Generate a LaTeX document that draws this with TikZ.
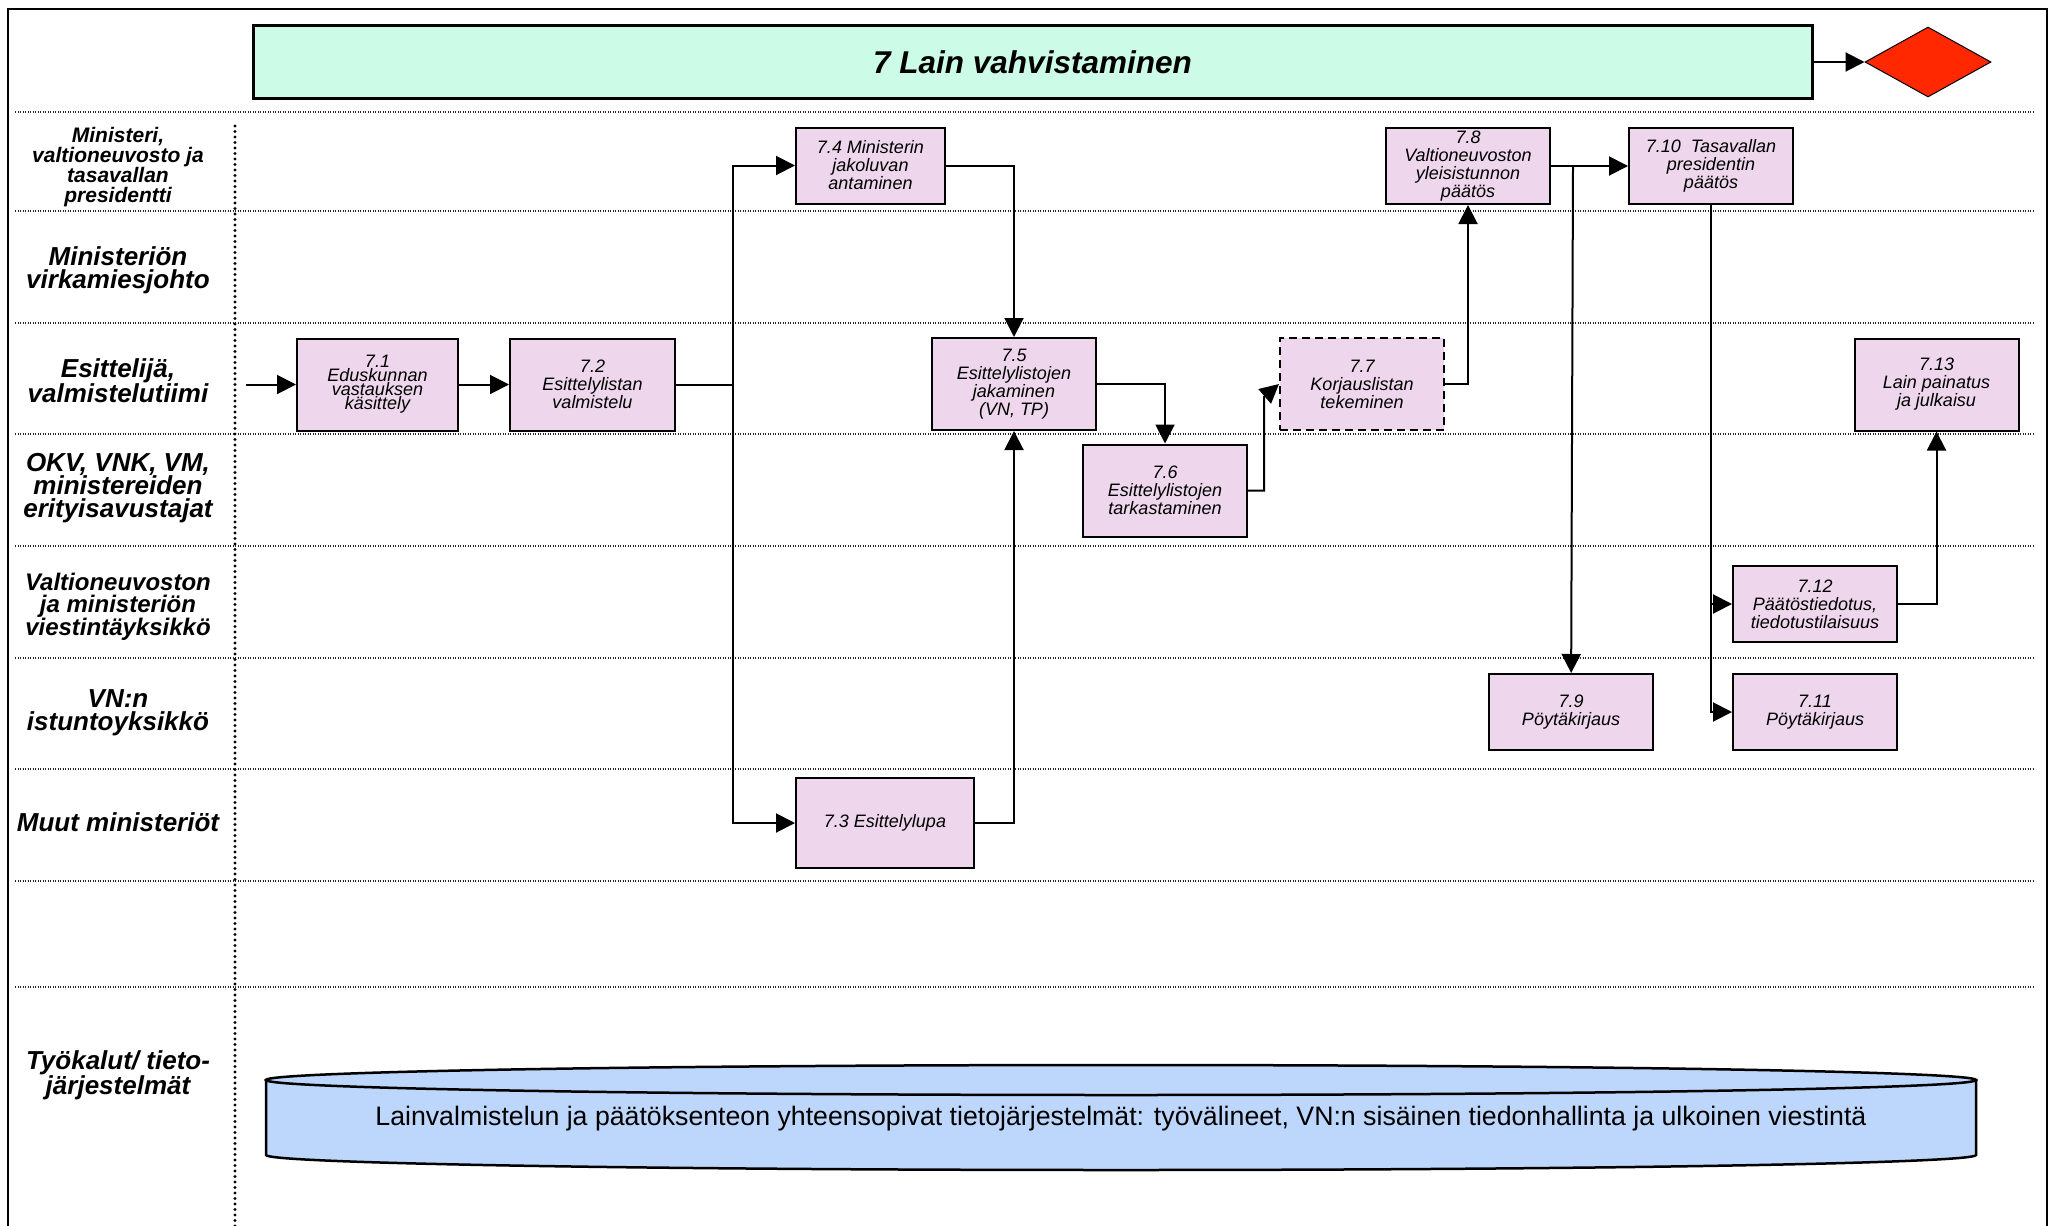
\documentclass[tikz,border=0pt]{standalone}
\usepackage{fontspec}
\setmainfont{Liberation Sans}
\usepackage{tikz}
\usetikzlibrary{shapes, arrows.meta, positioning, calc}
\definecolor{taskpink}{RGB}{238,215,236}
\definecolor{phasegreen}{RGB}{204,252,232}
\definecolor{endred}{RGB}{255,40,0}
\definecolor{systemblue}{RGB}{189,214,252}
\tikzstyle{task} = [rectangle, minimum width=164pt, minimum height=76pt, inner sep=0pt, align=center, draw=black, line width=2pt, fill=taskpink, font=\itshape\fontsize{18pt}{18pt}\selectfont]
\tikzstyle{tall} = [minimum height=92pt]
\tikzstyle{lanelabel} = [align=center, inner sep=0pt, font=\bfseries\itshape\fontsize{26pt}{23pt}\selectfont]
\tikzstyle{lanesep} = [line width=1.1pt, black!85, dash pattern=on 1.1pt off 1.4pt]
\tikzstyle{flow} = [line width=2pt, -{Triangle[length=19pt, width=19pt]}]

\begin{document}
\begin{tikzpicture}[x=1pt, y=-1pt]
\useasboundingbox (0,0) rectangle (2056,1226);
% frame and swimlanes
\draw [line width=2.5pt] (8,1226) -- (8,9) -- (2047,9) -- (2047,1226);
\foreach \y in {112,211,323,434,546,658,769,881,987}
  \draw [lanesep] (15,\y) -- (2033,\y);
\draw [line width=3.2pt, dash pattern=on 0pt off 5.5pt, line cap=round] (235,126) -- (235,1226);

\node (lane1) [lanelabel, font=\bfseries\itshape\fontsize{21pt}{20pt}\selectfont] at (118,167) {Ministeri,\\valtioneuvosto ja\\tasavallan\\presidentti};
\node (lane2) [lanelabel] at (118,270) {Ministeriön\\virkamiesjohto};
\node (lane3) [lanelabel] at (118,381) {Esittelijä,\\valmistelutiimi};
\node (lane4) [lanelabel] at (118,488) {OKV, VNK, VM,\\ministereiden\\erityisavustajat};
\node (lane5) [lanelabel, font=\bfseries\itshape\fontsize{24pt}{22pt}\selectfont] at (118,607) {Valtioneuvoston\\ja ministeriön\\viestintäyksikkö};
\node (lane6) [lanelabel] at (118,713) {VN:n\\istuntoyksikkö};
\node (lane7) [lanelabel] at (118,822) {Muut ministeriöt};
\node (lane8) [lanelabel, font=\bfseries\itshape\fontsize{26pt}{22pt}\selectfont] at (118,1075) {Työkalut/ tieto-\\järjestelmät};

\node (phase) [rectangle, draw=black, line width=3pt, fill=phasegreen, minimum width=1559pt, minimum height=73pt, inner sep=0pt, font=\bfseries\itshape\fontsize{31.5pt}{31.5pt}\selectfont] at (1032.5,62) {7 Lain vahvistaminen};
\node (goal) [diamond, draw=black, line width=1pt, fill=endred, minimum width=126pt, minimum height=70pt, inner sep=0pt] at (1928,62) {};

\node (t71) [task, tall, minimum width=161pt, font=\itshape\fontsize{18pt}{14pt}\selectfont] at (377.5,384.5) {7.1\\Eduskunnan\\vastauksen\\käsittely};
\node (t72) [task, tall, minimum width=165pt, right=50pt of t71] {7.2\\Esittelylistan\\valmistelu};
\node (t74) [task, minimum width=149pt] at (870.5,165.5) {7.4 Ministerin\\jakoluvan\\antaminen};
\node (t73) [task, minimum width=178pt, minimum height=90pt] at (885,823) {7.3 Esittelylupa};
\node (t75) [task, tall] at (1014,384) {7.5\\Esittelylistojen\\jakaminen\\(VN, TP)};
\node (t76) [task, tall] at (1165,490.5) {7.6\\Esittelylistojen\\tarkastaminen};
\node (t77) [task, tall, dash pattern=on 8pt off 5pt] at (1362,384) {7.7\\Korjauslistan\\tekeminen};
\node (t78) [task] at (1468,166) {7.8\\Valtioneuvoston\\yleisistunnon\\päätös};
\node (t710) [task, right=77pt of t78] {7.10~ Tasavallan\\presidentin\\päätös};
\node (t712) [task] at (1815,604) {7.12\\Päätöstiedotus,\\tiedotustilaisuus};
\node (t711) [task, below=30pt of t712] {7.11\\Pöytäkirjaus};
\node (t79) [task, left=78pt of t711] {7.9\\Pöytäkirjaus};
\node (t713) [task, tall] at (1936.5,384.5) {7.13\\Lain painatus\\ja julkaisu};

\coordinate (entry) at (246,384.5);
\coordinate (split) at (733,384.5);
\coordinate (bend) at (1264,397);
\coordinate (branch) at (1573,166);
\draw [flow] (entry) -- (t71);
\draw [flow] (t71) -- (t72);
\draw [line width=2pt] (t72) -- (split);
\draw [flow] (split) |- (t74);
\draw [flow] (split) |- (t73);
\draw [flow] (t74) -| (t75);
\draw [flow] (t73) -| (t75);
\draw [flow] (t75) -| (t76);
\draw [flow] (t76) -| (bend) -- (t77.west);
\draw [flow] (t77) -| (t78);
\draw [flow] (t78) -- (t710);
\draw [flow] (branch) -- (t79);
\draw [flow] (t710) |- (t712);
\draw [flow] (t710) |- (t711);
\draw [flow] (t712) -| (t713);
\draw [flow] (phase) -- (goal);

% tools cylinder
\filldraw [fill=systemblue, line width=2.5pt] (266,1080) -- (266,1155) arc [start angle=180, end angle=360, x radius=855pt, y radius=15pt] -- (1976,1080) -- cycle;
\filldraw [fill=systemblue, line width=2.5pt] (1121,1080) ellipse [x radius=855pt, y radius=15pt];
\node (systems) [font=\fontsize{26.7pt}{26.7pt}\selectfont] at (1121,1119) {Lainvalmistelun ja päätöksenteon yhteensopivat tietojärjestelmät: työvälineet, VN:n sisäinen tiedonhallinta ja ulkoinen viestintä};
\end{tikzpicture}
\end{document}
